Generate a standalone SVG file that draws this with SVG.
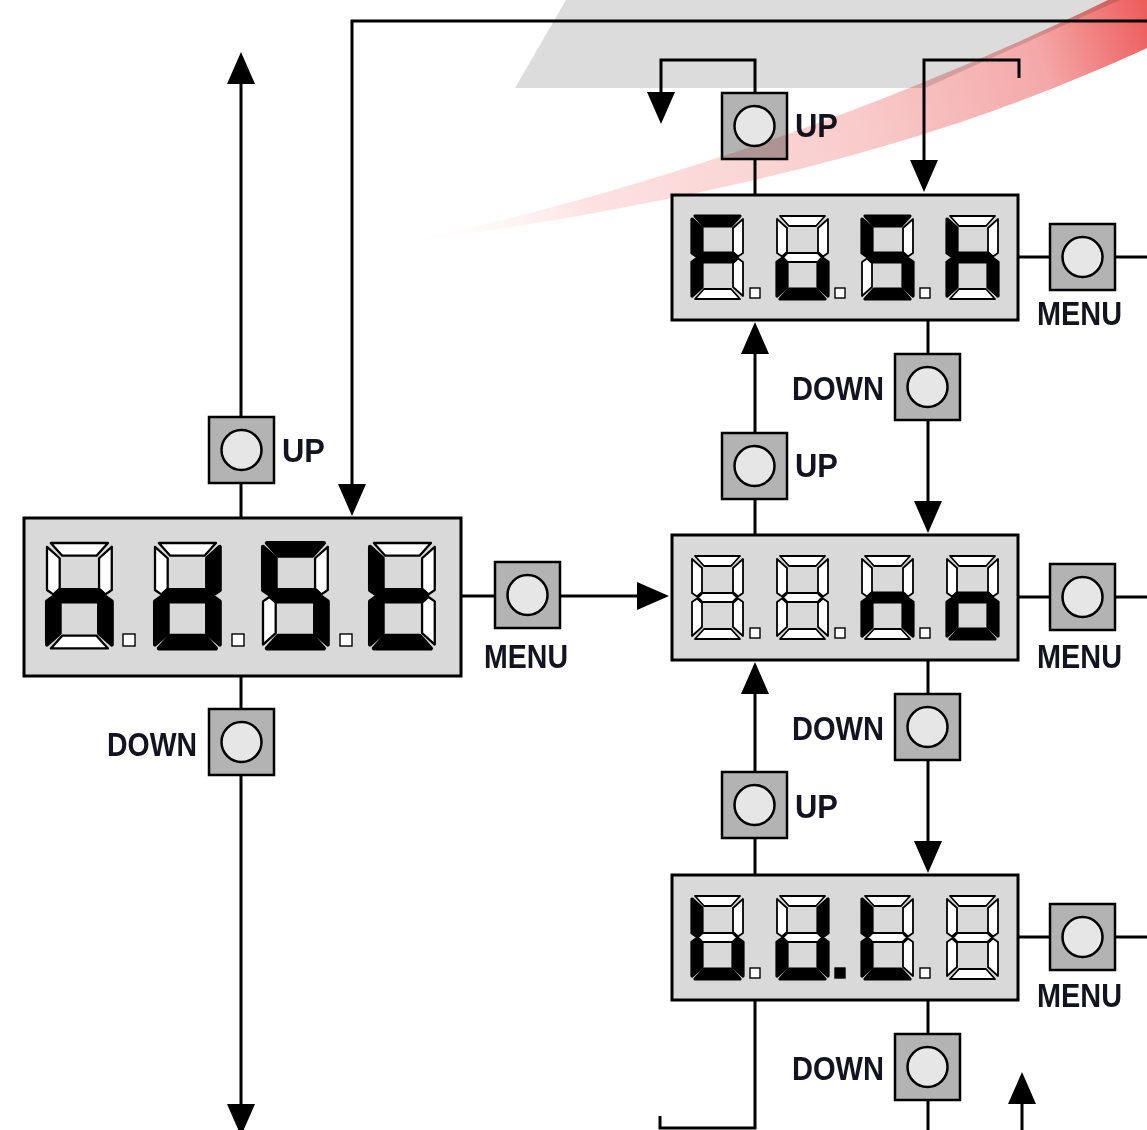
<svg xmlns="http://www.w3.org/2000/svg" xmlns:xlink="http://www.w3.org/1999/xlink" width="1147" height="1130" viewBox="0 0 1147 1130">
  <style>
    .wire { fill: none; stroke: #000; stroke-width: 3; }
    .arrow { marker-end: url(#ah); }
    .panel { fill: #d9d9d9; stroke: #000; stroke-width: 3; }
    .key { fill: #b3b3b3; stroke: #000; stroke-width: 2.5; }
    .knob { fill: #e6e6e6; stroke: #000; stroke-width: 2.5; }
    .seg { stroke: #000; stroke-linejoin: round; }
    .cell { fill: #fff; stroke-width: 1.8; }
    use.on { fill: #000; stroke-width: 3.2; }
    .dp { fill: #fff; stroke: #000; stroke-width: 1.4; }
    .dp.lit { fill: #000; }
    .lbl { font-family: "Liberation Sans", Arial, sans-serif; font-weight: bold; font-size: 34px; fill: #141420; }
  </style>
  <defs>
    <marker id="ah" viewBox="0 0 32 28" refX="28" refY="14" markerWidth="32" markerHeight="28" orient="auto" markerUnits="userSpaceOnUse">
      <path d="M0,0 L32,14 L0,28 Z" fill="#000"/>
    </marker>
    <linearGradient id="swoosh" gradientUnits="userSpaceOnUse" x1="390" y1="245" x2="1147" y2="0">
      <stop offset="0" stop-color="#ffffff" stop-opacity="0"/>
      <stop offset="0.25" stop-color="#fde2e2"/>
      <stop offset="0.6" stop-color="#f9cccc"/>
      <stop offset="0.85" stop-color="#f4a8a8"/>
      <stop offset="1" stop-color="#ee5a5a"/>
    </linearGradient>
    <!-- seven-segment cell, 51 x 83; fill and stroke width come from the referencing element -->
    <polygon id="sa" class="seg" points="3,0 48,0 39,10 12,10"/>
    <polygon id="sb" class="seg" points="51,3 51,37 46,40.5 41,36 41,12"/>
    <polygon id="sc" class="seg" points="51,46 46,42.5 41,47 41,71 51,80"/>
    <polygon id="sd" class="seg" points="3,83 12,73 39,73 48,83"/>
    <polygon id="se" class="seg" points="0,46 5,42.5 10,47 10,71 0,80"/>
    <polygon id="sf" class="seg" points="0,3 10,12 10,36 5,40.5 0,37"/>
    <polygon id="sg" class="seg" points="6,41.5 10.5,37 40.5,37 45,41.5 40.5,46 10.5,46"/>
    <g id="d8" class="cell">
      <use href="#sa"/><use href="#sb"/><use href="#sc"/><use href="#sd"/>
      <use href="#se"/><use href="#sf"/><use href="#sg"/>
    </g>
    <g id="key">
      <rect class="key" x="0" y="0" width="65" height="66"/>
      <circle class="knob" cx="32.5" cy="33" r="20"/>
    </g>
  </defs>

  <rect width="1147" height="1130" fill="#fff"/>

  <!-- background band -->
  <polygon points="566,0 1120,0 925,88 515,88" fill="#dcdcdc"/>

  <!-- connectors -->
  <g id="connectors">
    <path class="wire arrow" d="M241,518 V56"/>
    <path class="wire arrow" d="M241,676 V1132"/>
    <path class="wire arrow" d="M1147,21 H352 V512"/>
    <path class="wire arrow" d="M461,596 H665"/>
    <path class="wire arrow" d="M755,195 V60 H661 V120"/>
    <path class="wire arrow" d="M1019,78 V60 H924 V188"/>
    <path class="wire arrow" d="M928,320 V529"/>
    <path class="wire arrow" d="M755,535 V326"/>
    <path class="wire arrow" d="M928,660 V869"/>
    <path class="wire arrow" d="M755,875 V666"/>
    <path class="wire" d="M928,1000 V1130"/>
    <path class="wire" d="M755,1000 V1128 H660 V1116"/>
    <path class="wire arrow" d="M1022,1130 V1076"/>
    <path class="wire" d="M1018,257 H1147"/>
    <path class="wire" d="M1018,597 H1147"/>
    <path class="wire" d="M1018,937 H1147"/>
  </g>

  <!-- left display -->
  <g id="display-left">
    <rect class="panel" x="24" y="518" width="437" height="158"/>
    <g transform="translate(47,543) scale(1.27)">
      <use href="#d8"/><use href="#sg" class="on"/><use href="#se" class="on"/><use href="#sc" class="on"/>
    </g>
    <g transform="translate(155,543) scale(1.27)">
      <use href="#d8"/><use href="#sb" class="on"/><use href="#sc" class="on"/><use href="#sd" class="on"/><use href="#se" class="on"/><use href="#sg" class="on"/>
    </g>
    <g transform="translate(263,543) scale(1.27)">
      <use href="#d8"/><use href="#sa" class="on"/><use href="#sf" class="on"/><use href="#sg" class="on"/><use href="#sc" class="on"/><use href="#sd" class="on"/>
    </g>
    <g transform="translate(370,543) scale(1.27)">
      <use href="#d8"/><use href="#sf" class="on"/><use href="#sg" class="on"/><use href="#se" class="on"/><use href="#sd" class="on"/>
    </g>
    <rect class="dp" x="123" y="634" width="12" height="12"/>
    <rect class="dp" x="232" y="634" width="12" height="12"/>
    <rect class="dp" x="340" y="634" width="12" height="12"/>
  </g>

  <!-- top display -->
  <g id="display-top">
    <rect class="panel" x="672" y="195" width="346" height="125"/>
    <g transform="translate(692,216)">
      <use href="#d8"/><use href="#sa" class="on"/><use href="#sf" class="on"/><use href="#sg" class="on"/><use href="#se" class="on"/>
    </g>
    <g transform="translate(777,216)">
      <use href="#d8"/><use href="#se" class="on"/><use href="#sd" class="on"/><use href="#sc" class="on"/>
    </g>
    <g transform="translate(862,216)">
      <use href="#d8"/><use href="#sa" class="on"/><use href="#sf" class="on"/><use href="#sg" class="on"/><use href="#sc" class="on"/><use href="#sd" class="on"/>
    </g>
    <g transform="translate(947,216)">
      <use href="#d8"/><use href="#sf" class="on"/><use href="#se" class="on"/><use href="#sg" class="on"/><use href="#sc" class="on"/>
    </g>
    <rect class="dp" x="750" y="288" width="10" height="10"/>
    <rect class="dp" x="835" y="288" width="10" height="10"/>
    <rect class="dp" x="920" y="288" width="10" height="10"/>
  </g>

  <!-- middle display -->
  <g id="display-mid">
    <rect class="panel" x="672" y="535" width="346" height="125"/>
    <g transform="translate(692,556)"><use href="#d8"/></g>
    <g transform="translate(777,556)"><use href="#d8"/></g>
    <g transform="translate(862,556)">
      <use href="#d8"/><use href="#sg" class="on"/><use href="#se" class="on"/><use href="#sc" class="on"/>
    </g>
    <g transform="translate(947,556)">
      <use href="#d8"/><use href="#sg" class="on"/><use href="#se" class="on"/><use href="#sc" class="on"/><use href="#sd" class="on"/>
    </g>
    <rect class="dp" x="750" y="628" width="10" height="10"/>
    <rect class="dp" x="835" y="628" width="10" height="10"/>
    <rect class="dp" x="920" y="628" width="10" height="10"/>
  </g>

  <!-- bottom display -->
  <g id="display-bottom">
    <rect class="panel" x="672" y="875" width="346" height="125"/>
    <g transform="translate(692,896)">
      <use href="#d8"/><use href="#sf" class="on"/><use href="#se" class="on"/><use href="#sd" class="on"/><use href="#sc" class="on"/>
    </g>
    <g transform="translate(777,896)">
      <use href="#d8"/><use href="#sb" class="on"/><use href="#sc" class="on"/><use href="#sd" class="on"/><use href="#se" class="on"/>
    </g>
    <g transform="translate(862,896)">
      <use href="#d8"/><use href="#sf" class="on"/><use href="#se" class="on"/><use href="#sd" class="on"/>
    </g>
    <g transform="translate(947,896)"><use href="#d8"/></g>
    <rect class="dp" x="750" y="968" width="10" height="10"/>
    <rect class="dp lit" x="835" y="968" width="10" height="10"/>
    <rect class="dp" x="920" y="968" width="10" height="10"/>
  </g>

  <!-- keys -->
  <g id="key-left-up">
    <use href="#key" x="209" y="417"/>
    <text class="lbl" x="282" y="462" textLength="43" lengthAdjust="spacingAndGlyphs">UP</text>
  </g>
  <g id="key-left-down">
    <use href="#key" x="209" y="709"/>
    <text class="lbl" x="107" y="756" textLength="90" lengthAdjust="spacingAndGlyphs">DOWN</text>
  </g>
  <g id="key-left-menu">
    <use href="#key" x="495" y="562"/>
    <text class="lbl" x="484" y="668" textLength="84" lengthAdjust="spacingAndGlyphs">MENU</text>
  </g>
  <g id="key-top-up">
    <use href="#key" x="722" y="93"/>
    <text class="lbl" x="795" y="137" textLength="43" lengthAdjust="spacingAndGlyphs">UP</text>
  </g>
  <g id="key-top-menu">
    <use href="#key" x="1050" y="224"/>
    <text class="lbl" x="1037" y="325" textLength="85" lengthAdjust="spacingAndGlyphs">MENU</text>
  </g>
  <g id="key-top-down">
    <use href="#key" x="895" y="354"/>
    <text class="lbl" x="792" y="400" textLength="92" lengthAdjust="spacingAndGlyphs">DOWN</text>
  </g>
  <g id="key-mid-up">
    <use href="#key" x="722" y="433"/>
    <text class="lbl" x="795" y="477" textLength="43" lengthAdjust="spacingAndGlyphs">UP</text>
  </g>
  <g id="key-mid-menu">
    <use href="#key" x="1050" y="564"/>
    <text class="lbl" x="1037" y="668" textLength="85" lengthAdjust="spacingAndGlyphs">MENU</text>
  </g>
  <g id="key-mid-down">
    <use href="#key" x="895" y="694"/>
    <text class="lbl" x="792" y="740" textLength="92" lengthAdjust="spacingAndGlyphs">DOWN</text>
  </g>
  <g id="key-bottom-up">
    <use href="#key" x="722" y="772"/>
    <text class="lbl" x="795" y="818" textLength="43" lengthAdjust="spacingAndGlyphs">UP</text>
  </g>
  <g id="key-bottom-menu">
    <use href="#key" x="1050" y="904"/>
    <text class="lbl" x="1037" y="1007" textLength="85" lengthAdjust="spacingAndGlyphs">MENU</text>
  </g>
  <g id="key-bottom-down">
    <use href="#key" x="895" y="1034"/>
    <text class="lbl" x="792" y="1080" textLength="92" lengthAdjust="spacingAndGlyphs">DOWN</text>
  </g>

  <!-- decorative swoosh, blended over the drawing -->
  <path d="M388,245 C520,220 800,150 1108,0 L1147,0 L1147,48 C1000,115 800,190 388,245 Z" fill="url(#swoosh)" style="mix-blend-mode:multiply"/>
</svg>
